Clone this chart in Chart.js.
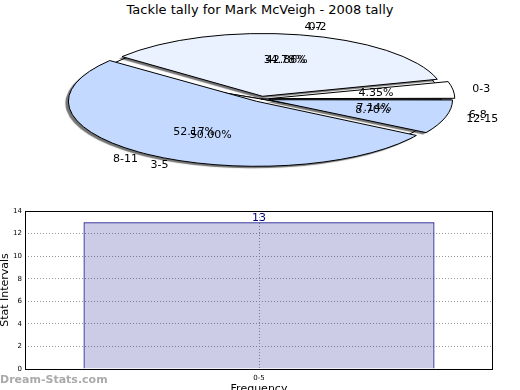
<!DOCTYPE html>
<html lang="en">
<head>
<meta charset="UTF-8">
<title>Tackle tally for Mark McVeigh - 2008 tally</title>
<script src="https://cdn.jsdelivr.net/npm/chart.js"></script>
<style>
    body {
        margin: 0;
        width: 520px;
        height: 390px;
        overflow: hidden;
        position: relative;
        background: #fff;
        font-family: "DejaVu Sans", sans-serif;
    }
    #title {
        position: absolute;
        top: 2px;
        left: 0;
        width: 520px;
        text-align: center;
        font-size: 13px;
        color: #000;
    }
    canvas {
        position: absolute;
        left: 0;
    }
    #pieBack, #pieFront { top: 0; }
    #barChart { top: 195px; }
    #brand {
        position: absolute;
        left: 0;
        top: 373px;
        font-size: 11px;
        font-weight: bold;
        color: #aaa;
    }
</style>
</head>
<body>
<div id="title">Tackle tally for Mark McVeigh - 2008 tally</div>
<canvas id="pieBack" width="520" height="200"></canvas>
<canvas id="pieFront" width="520" height="200"></canvas>
<canvas id="barChart" width="520" height="200"></canvas>
<div id="brand">Dream-Stats.com</div>
<script>
    // pie drawn on top
    const frontLabels = ['0-3', '4-7', '8-11', '12-15'];
    const frontValues = [1, 8, 12, 2];
    const frontColors = ['#ffffff', '#eaf1ff', '#c3d9ff', '#c3d9ff'];

    // pie drawn underneath
    const backLabels = ['0-2', '3-5', '6-8'];
    const backValues = [6, 7, 1];
    const backColors = ['#ffffff', '#ffffff', '#c3d9ff'];

    // bar chart
    const barLabels = ['0-5'];
    const barValues = [13];

    Chart.defaults.font.family = '"DejaVu Sans", sans-serif';

    const SQUASH = 0.346;  // pie is flattened into an ellipse
    const EXPLODE = 8;     // slice push-out, px

    // flatten the pie vertically (and mirror so slices run counter-clockwise)
    const squash = {
        id: 'squash',
        beforeDatasetsDraw(chart, args, opts) {
            const ctx = chart.ctx;
            const arc = chart.getDatasetMeta(0).data[0];
            ctx.save();
            const base = ctx.getTransform();
            ctx.translate(arc.x, arc.y);
            ctx.scale(1, -SQUASH);
            ctx.translate(-arc.x, -arc.y);
            if (opts.shadow) {
                ctx.shadowColor = 'rgba(0,0,0,0.55)';
                ctx.shadowOffsetX = -3;
                ctx.shadowOffsetY = 2;
                ctx.shadowBlur = 1;
            }
            // keep outlines 1px thick on screen
            ctx.stroke = function () {
                this.save();
                this.setTransform(base);
                this.shadowColor = 'transparent';
                CanvasRenderingContext2D.prototype.stroke.call(this);
                this.restore();
            };
        },
        afterDatasetsDraw(chart) {
            delete chart.ctx.stroke;
            chart.ctx.restore();
        }
    };

    function drawPieLabels(chart, ctx) {
        const meta = chart.getDatasetMeta(0);
        const values = chart.data.datasets[0].data;
        const total = values.reduce((a, b) => a + b, 0);
        ctx.save();
        ctx.font = '11px "DejaVu Sans"';
        ctx.fillStyle = '#000';
        ctx.textBaseline = 'middle';
        meta.data.forEach((arc, i) => {
            const mid = (arc.startAngle + arc.endAngle) / 2;
            const at = d => [arc.x + Math.cos(mid) * d, arc.y - Math.sin(mid) * d * SQUASH];
            let [x, y] = at(EXPLODE + arc.outerRadius * 1.14);
            ctx.textAlign = Math.cos(mid) >= 0 ? 'left' : 'right';
            ctx.fillText(chart.data.labels[i], x, y);
            [x, y] = at(EXPLODE + arc.outerRadius * 0.6);
            ctx.textAlign = 'center';
            ctx.fillText((values[i] / total * 100).toFixed(2) + '%', x, y);
        });
        ctx.restore();
    }

    function pieConfig(labels, values, colors, offset, shadow, extra) {
        return {
            type: 'pie',
            data: {
                labels: labels,
                datasets: [{
                    data: values,
                    backgroundColor: colors,
                    borderColor: '#000',
                    borderWidth: 1,
                    offset: offset,
                    clip: false
                }]
            },
            options: {
                responsive: false,
                animation: false,
                events: [],
                rotation: 90,
                radius: 180,
                layout: { padding: { left: 2, bottom: 2 } },
                plugins: {
                    legend: { display: false },
                    tooltip: { enabled: false },
                    squash: { shadow: shadow }
                }
            },
            plugins: [squash].concat(extra)
        };
    }

    const pieBack = new Chart(document.getElementById('pieBack'),
        pieConfig(backLabels, backValues, backColors, 0, false, []));

    // labels of both pies go on the top canvas
    const pieLabelLayer = {
        id: 'pieLabelLayer',
        afterDraw(chart) {
            drawPieLabels(pieBack, chart.ctx);
            drawPieLabels(chart, chart.ctx);
        }
    };
    // arc offset option is scaled by 1/4 when drawn
    new Chart(document.getElementById('pieFront'),
        pieConfig(frontLabels, frontValues, frontColors, EXPLODE * 4, true, [pieLabelLayer]));

    const frame = {
        id: 'frame',
        afterDraw(chart) {
            const a = chart.chartArea;
            const ctx = chart.ctx;
            ctx.save();
            ctx.strokeStyle = '#000';
            ctx.lineWidth = 1;
            ctx.strokeRect(Math.round(a.left) + 0.5, Math.round(a.top) + 0.5,
                Math.round(a.right - a.left) - 1, Math.round(a.bottom - a.top));
            ctx.restore();
        }
    };

    const valueLabel = {
        id: 'valueLabel',
        afterDatasetsDraw(chart) {
            const ctx = chart.ctx;
            ctx.save();
            ctx.font = '11px "DejaVu Sans"';
            ctx.fillStyle = '#000080';
            ctx.textAlign = 'center';
            ctx.textBaseline = 'bottom';
            chart.getDatasetMeta(0).data.forEach((bar, i) => {
                ctx.fillText(String(barValues[i]), bar.x, bar.y + 1);
            });
            ctx.restore();
        }
    };

    new Chart(document.getElementById('barChart'), {
        type: 'bar',
        data: {
            labels: barLabels,
            datasets: [{
                data: barValues,
                backgroundColor: 'rgba(0,0,128,0.2)',
                borderColor: '#000080',
                borderWidth: 1,
                barPercentage: 0.75,
                categoryPercentage: 1
            }]
        },
        options: {
            responsive: false,
            animation: false,
            events: [],
            layout: { padding: { top: 16, right: 27, left: 0, bottom: 0 } },
            plugins: {
                legend: { display: false },
                tooltip: { enabled: false }
            },
            scales: {
                x: {
                    grid: { offset: false, color: '#999', drawTicks: false },
                    border: { display: false, dash: [1, 2] },
                    ticks: { font: { size: 7 }, color: '#000', padding: 5 },
                    title: { display: true, text: 'Frequency', font: { size: 11, lineHeight: 1 }, color: '#000', padding: 0 },
                    afterFit(scale) { scale.height = 26; }
                },
                y: {
                    min: 0,
                    max: 14,
                    ticks: { stepSize: 2, font: { size: 7 }, color: '#000', padding: 3 },
                    grid: { color: '#999', drawTicks: false },
                    border: { display: false, dash: [1, 2] },
                    title: { display: true, text: 'Stat Intervals', font: { size: 11, lineHeight: 1 }, color: '#000', padding: 0 },
                    afterFit(scale) { scale.width = 25; }
                }
            }
        },
        plugins: [frame, valueLabel]
    });
</script>
</body>
</html>
